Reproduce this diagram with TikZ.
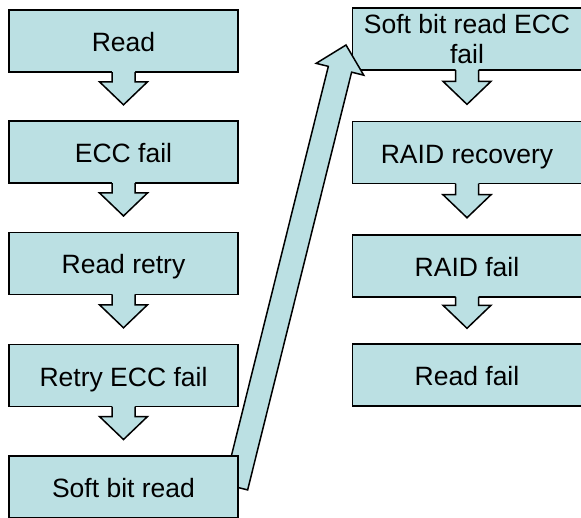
\documentclass[tikz,border=0pt]{standalone}
\usepackage{fontspec}
\setmainfont{Liberation Sans}
\usetikzlibrary{calc}
\definecolor{boxfill}{RGB}{187,224,227}
\pgfdeclarelayer{back}
\pgfdeclarelayer{mid}
\pgfsetlayers{back,mid,main}
\tikzset{
  stepbox/.style={draw=black, fill=boxfill, line width=1.5pt,
    minimum width=229pt, minimum height=62pt, inner sep=0pt, outer sep=0pt,
    font=\fontsize{26.5}{30}\selectfont, text height=21pt, text depth=0pt},
  arrowline/.style={draw=black, line width=1.5pt, line join=miter},
}
% Block arrow from a tail point (#1) to a tip point (#2):
% #3 half shaft width, #4 half head width, #5 head length.
% The tail end is left open so the arrow grows out of the box above it.
\newcommand\flowarrow[5]{%
  \coordinate (fa-h) at ($(#2)!#5!(#1)$);
  \coordinate (fa-b) at ($(#1)!-1pt!(#2)$);
  \fill[boxfill] ($(fa-b)!#3!90:(#2)$) -- ($(fa-h)!#3!-90:(#1)$)
    -- ($(fa-h)!#4!-90:(#1)$) -- (#2) -- ($(fa-h)!#4!90:(#1)$)
    -- ($(fa-h)!#3!90:(#1)$) -- ($(fa-b)!#3!-90:(#2)$) -- cycle;
  \draw[arrowline] ($(#1)!#3!90:(#2)$) -- ($(fa-h)!#3!-90:(#1)$)
    -- ($(fa-h)!#4!-90:(#1)$) -- (#2) -- ($(fa-h)!#4!90:(#1)$)
    -- ($(fa-h)!#3!90:(#1)$) -- ($(#1)!#3!-90:(#2)$);
}
% Closed block arrow, outlined all round.
\newcommand\longarrow[5]{%
  \coordinate (la-h) at ($(#2)!#5!(#1)$);
  \draw[arrowline, fill=boxfill] ($(#1)!#3!90:(#2)$) -- ($(la-h)!#3!-90:(#1)$)
    -- ($(la-h)!#4!-90:(#1)$) -- (#2) -- ($(la-h)!#4!90:(#1)$)
    -- ($(la-h)!#3!90:(#1)$) -- ($(#1)!#3!-90:(#2)$) -- cycle;
}
\begin{document}
\begin{tikzpicture}[x=1pt, y=-1pt]
  \useasboundingbox (0,0) rectangle (581,517);

  % left column
  \node[stepbox] (l1) at (123.5, 41)    {Read};
  \node[stepbox] (l2) at (123.5, 152.2) {ECC fail};
  \node[stepbox] (l3) at (123.5, 263.3) {Read retry};
  \node[stepbox] (l4) at (123.5, 375.5) {Retry ECC fail};
  \node[stepbox] (l5) at (123.5, 487)   {Soft bit read};

  \foreach \a/\b in {l1/l2, l2/l3, l3/l4, l4/l5} {
    \coordinate (\a-tip) at ($(\a.south)!0.667!(\b.north)$);
    \flowarrow{\a.south}{\a-tip}{11.5pt}{24pt}{23pt}
  }

  % right column
  \begin{pgfonlayer}{back}
    \node[stepbox, align=center, text height=48pt, text depth=0pt] (r1) at (467, 39)
      {Soft bit read ECC\\fail};
    \node[stepbox] (r2) at (467, 152.5) {RAID recovery};
    \node[stepbox] (r3) at (467, 265.8) {RAID fail};
    \node[stepbox] (r4) at (467, 375)   {Read fail};
    \foreach \a/\b in {r1/r2, r2/r3, r3/r4} {
      \coordinate (\a-tip) at ($(\a.south)!0.667!(\b.north)$);
      \flowarrow{\a.south}{\a-tip}{11.5pt}{24pt}{23pt}
    }
  \end{pgfonlayer}

  % jump from the soft bit read to its ECC check
  \begin{pgfonlayer}{mid}
    \coordinate (jump-tail) at ($(l5.east)+(-2,0)$);
    \coordinate (jump-tip) at ($(r1.west)+(-6.5,6)$);
    \longarrow{jump-tail}{jump-tip}{12pt}{24.5pt}{25pt}
  \end{pgfonlayer}
\end{tikzpicture}
\end{document}
